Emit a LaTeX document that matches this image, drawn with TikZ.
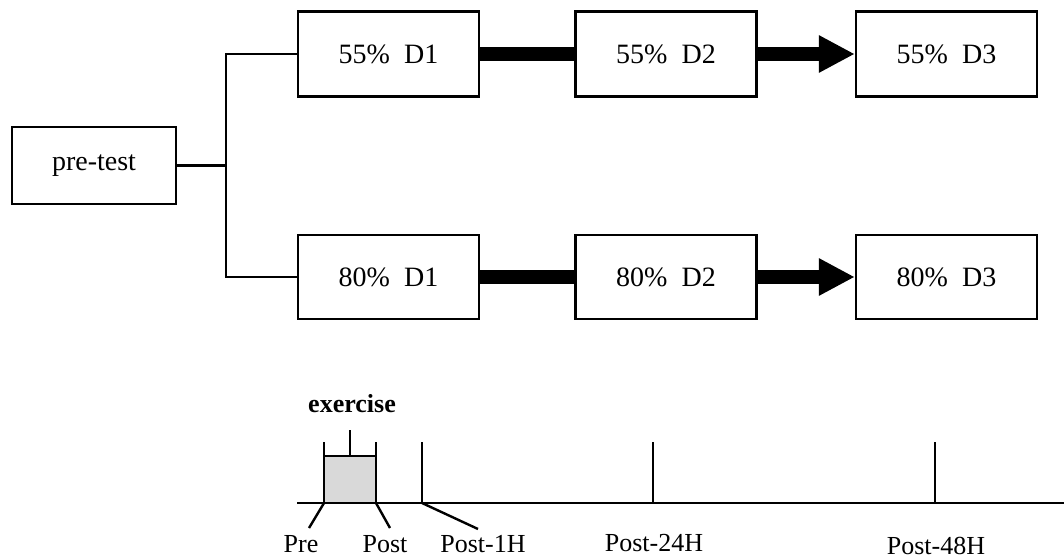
\documentclass[tikz,border=0pt]{standalone}
\usepackage{fontspec}
\setmainfont{Liberation Serif}
\usetikzlibrary{arrows.meta}
\begin{document}
\begin{tikzpicture}[x=1pt,y=-1pt,
  box/.style={draw,line width=2.4pt,minimum width=181pt,minimum height=85pt,inner sep=0pt,
    font=\fontsize{28}{34}\selectfont},
  bar/.style={line width=14pt},
  barrow/.style={line width=14pt,-{Triangle[length=36pt,width=35pt]}},
  wire/.style={line width=2.4pt},
  lbl/.style={anchor=base,inner sep=0pt,font=\fontsize{26}{30}\selectfont},
  tl/.style={line width=2.4pt}]
\useasboundingbox (0,0) rectangle (1064,559);
% flow boxes
\node[box,minimum width=164pt,minimum height=77pt] (pt) at (94,165.5) {pre-test};
\node[box] (a1) at (388.5,54) {55\%\hspace{0.5em}D1};
\node[box] (a2) at (666,54) {55\%\hspace{0.5em}D2};
\node[box] (a3) at (946.5,54) {55\%\hspace{0.5em}D3};
\node[box,minimum height=84pt] (b1) at (388.5,277) {80\%\hspace{0.5em}D1};
\node[box,minimum height=84pt] (b2) at (666,277) {80\%\hspace{0.5em}D2};
\node[box,minimum height=84pt] (b3) at (946.5,277) {80\%\hspace{0.5em}D3};
% branch
\coordinate (br) at (226,165.5);
\draw[wire] (pt.east) -- (br);
\draw[wire] (a1.west) -| (br) |- (b1.west);
% connectors
\draw[bar] (a1.east) -- (a2.west);
\draw[barrow] (a2.east) -- (a3.west);
\draw[bar] (b1.east) -- (b2.west);
\draw[barrow] (b2.east) -- (b3.west);
% timeline
\coordinate (L) at (297,503);
\coordinate (R) at (1064,503);
\draw[tl] (L) -- (R);
\node[draw,fill=black!15,line width=2.4pt,minimum width=52pt,minimum height=47pt,inner sep=0pt,
  anchor=south west,outer sep=0pt] (ex) at (324,503) {};
\draw[tl] (ex.north west) -- ++(0,-14);
\draw[tl] (ex.north east) -- ++(0,-14);
\draw[tl] (ex.north) -- ++(0,-26);
\node[lbl,font=\fontsize{26}{30}\selectfont\bfseries] (exl) at (352,412) {exercise};
\coordinate (t1) at (422,503);
\coordinate (t24) at (653,503);
\coordinate (t48) at (935,503);
\draw[tl] (t1) -- ++(0,-61);
\draw[tl] (t24) -- ++(0,-61);
\draw[tl] (t48) -- ++(0,-61);
% labels
\node[lbl] (lpre) at (301,552) {Pre};
\node[lbl] (lpost) at (385,552) {Post};
\node[lbl] (l1h) at (483,552) {Post-1H};
\node[lbl] (l24) at (654,551) {Post-24H};
\node[lbl] (l48) at (936,554) {Post-48H};
\coordinate (e1) at (309,528);
\coordinate (e2) at (390,528);
\coordinate (e3) at (478,529);
\draw[tl] (ex.south west) -- (e1);
\draw[tl] (ex.south east) -- (e2);
\draw[tl] (t1) -- (e3);
\end{tikzpicture}
\end{document}
